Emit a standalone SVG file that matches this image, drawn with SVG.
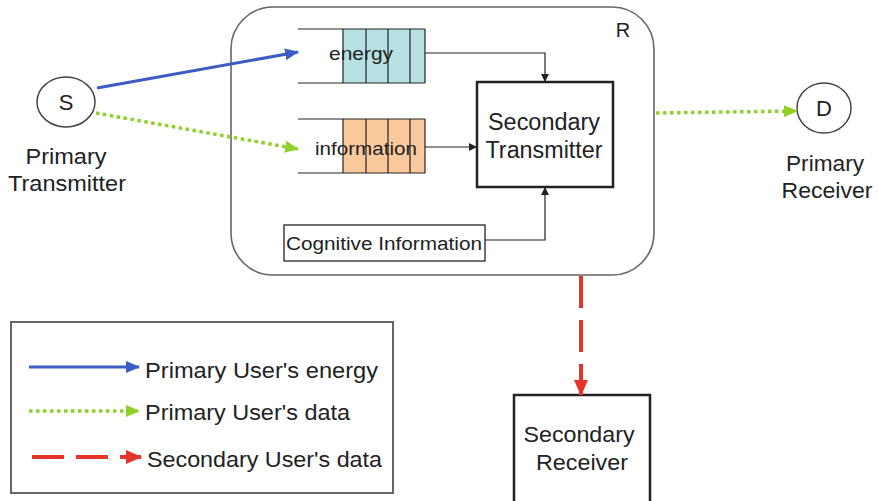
<svg xmlns="http://www.w3.org/2000/svg" width="878" height="501" viewBox="0 0 878 501">
<style>
text{font-family:"Liberation Sans",Arial,sans-serif;fill:#222;text-anchor:middle}
.big{font-size:22px}
.st{text-anchor:start}
.thin{stroke:#222;stroke-width:1.2;fill:none}
.blue{stroke:#3b5cc4;stroke-width:3;fill:none}
.green{stroke:#8fd12a;stroke-width:3.5;fill:none;stroke-dasharray:3.5 3.5}
.red{stroke:#e5352a;stroke-width:4;fill:none;stroke-dasharray:32 12}
</style>
<defs>
<marker id="ab" markerUnits="userSpaceOnUse" markerWidth="14" markerHeight="12" refX="13" refY="6" orient="auto"><path d="M0,0 L14,6 L0,12 Z" fill="#3b5cc4"/></marker>
<marker id="ag" markerUnits="userSpaceOnUse" markerWidth="14" markerHeight="12" refX="13" refY="6" orient="auto"><path d="M0,0 L14,6 L0,12 Z" fill="#8fd12a"/></marker>
<marker id="ar" markerUnits="userSpaceOnUse" markerWidth="16" markerHeight="14" refX="15" refY="7" orient="auto"><path d="M0,0 L16,7 L0,14 Z" fill="#e5352a"/></marker>
<marker id="ak" markerUnits="userSpaceOnUse" markerWidth="8" markerHeight="8" refX="8" refY="4" orient="auto"><path d="M0,0 L8,4 L0,8 Z" fill="#222"/></marker>
</defs>
<rect width="878" height="501" fill="#fff"/>

<g id="relay">
<rect x="231" y="7" width="423" height="268" rx="42" fill="#fff" stroke="#666" stroke-width="1.6"/>
<text x="623" y="37" style="font-size:20px">R</text>
</g>

<g id="energy-queue">
<rect x="343" y="29" width="82" height="54" fill="#b6e0e1"/>
<path d="M298,29 H425 M298,83 H425 M343,29 V83 M366,29 V83 M388,29 V83 M410,29 V83 M425,29 V83" class="thin" stroke-width="1.5"/>
<text x="361" y="60" style="font-size:19px" textLength="64" lengthAdjust="spacingAndGlyphs">energy</text>
</g>

<g id="information-queue">
<rect x="343" y="119" width="82" height="54" fill="#f9c99c"/>
<path d="M298,119 H425 M298,173 H425 M343,119 V173 M366,119 V173 M388,119 V173 M410,119 V173 M425,119 V173" class="thin" stroke-width="1.5"/>
<text x="366" y="155" style="font-size:19px" textLength="102" lengthAdjust="spacingAndGlyphs">information</text>
</g>

<g id="secondary-transmitter">
<rect x="477" y="82" width="136" height="105" fill="#fff" stroke="#222" stroke-width="2.5"/>
<text x="544" y="130" style="font-size:23px" textLength="112" lengthAdjust="spacingAndGlyphs">Secondary</text>
<text x="544" y="158" style="font-size:23px" textLength="117" lengthAdjust="spacingAndGlyphs">Transmitter</text>
</g>

<g id="cognitive-information">
<rect x="284" y="225" width="201" height="36" fill="#fff" stroke="#222" stroke-width="1.3"/>
<text x="384" y="250" style="font-size:18px" textLength="196" lengthAdjust="spacingAndGlyphs">Cognitive Information</text>
</g>

<g id="source">
<ellipse cx="66" cy="102" rx="29" ry="25" fill="#fff" stroke="#444" stroke-width="1.5"/>
<text x="66" y="110" class="big">S</text>
<text x="66" y="164" class="big" textLength="81" lengthAdjust="spacingAndGlyphs">Primary</text>
<text x="67" y="191" class="big" textLength="118" lengthAdjust="spacingAndGlyphs">Transmitter</text>
</g>

<g id="destination">
<ellipse cx="824" cy="108" rx="27" ry="25" fill="#fff" stroke="#444" stroke-width="1.5"/>
<text x="824" y="116" class="big">D</text>
<text x="825" y="171" class="big" textLength="78" lengthAdjust="spacingAndGlyphs">Primary</text>
<text x="827" y="198" class="big" textLength="91" lengthAdjust="spacingAndGlyphs">Receiver</text>
</g>

<g id="secondary-receiver">
<rect x="514" y="395" width="136" height="110" fill="#fff" stroke="#222" stroke-width="2.5"/>
<text x="579" y="442" class="big" textLength="111" lengthAdjust="spacingAndGlyphs">Secondary</text>
<text x="582" y="470" class="big" textLength="92" lengthAdjust="spacingAndGlyphs">Receiver</text>
</g>

<g id="connectors">
<path d="M97,88 L298,52" class="blue" marker-end="url(#ab)"/>
<path d="M96,113 L298,149" class="green" marker-end="url(#ag)"/>
<path d="M656,113 L797,111" class="green" marker-end="url(#ag)"/>
<path d="M581,276 L581,395" class="red" marker-end="url(#ar)"/>
<path d="M425,53 H545 V82" class="thin" marker-end="url(#ak)"/>
<path d="M425,147 H477" class="thin" marker-end="url(#ak)"/>
<path d="M485,240 H545 V187" class="thin" marker-end="url(#ak)"/>
</g>

<g id="legend">
<rect x="11" y="322" width="382" height="171" fill="#fff" stroke="#666" stroke-width="2"/>
<path d="M29,367 H139" class="blue" marker-end="url(#ab)"/>
<text x="145" y="378" class="big st" textLength="233" lengthAdjust="spacingAndGlyphs">Primary User's energy</text>
<path d="M29,411 H139" class="green" marker-end="url(#ag)"/>
<text x="145" y="420" class="big st" textLength="205" lengthAdjust="spacingAndGlyphs">Primary User's data</text>
<path d="M32,457 H141" class="red" stroke-dasharray="31 14" stroke-width="3.5" marker-end="url(#ar)"/>
<text x="147" y="467" class="big st" textLength="235" lengthAdjust="spacingAndGlyphs">Secondary User's data</text>
</g>
</svg>
